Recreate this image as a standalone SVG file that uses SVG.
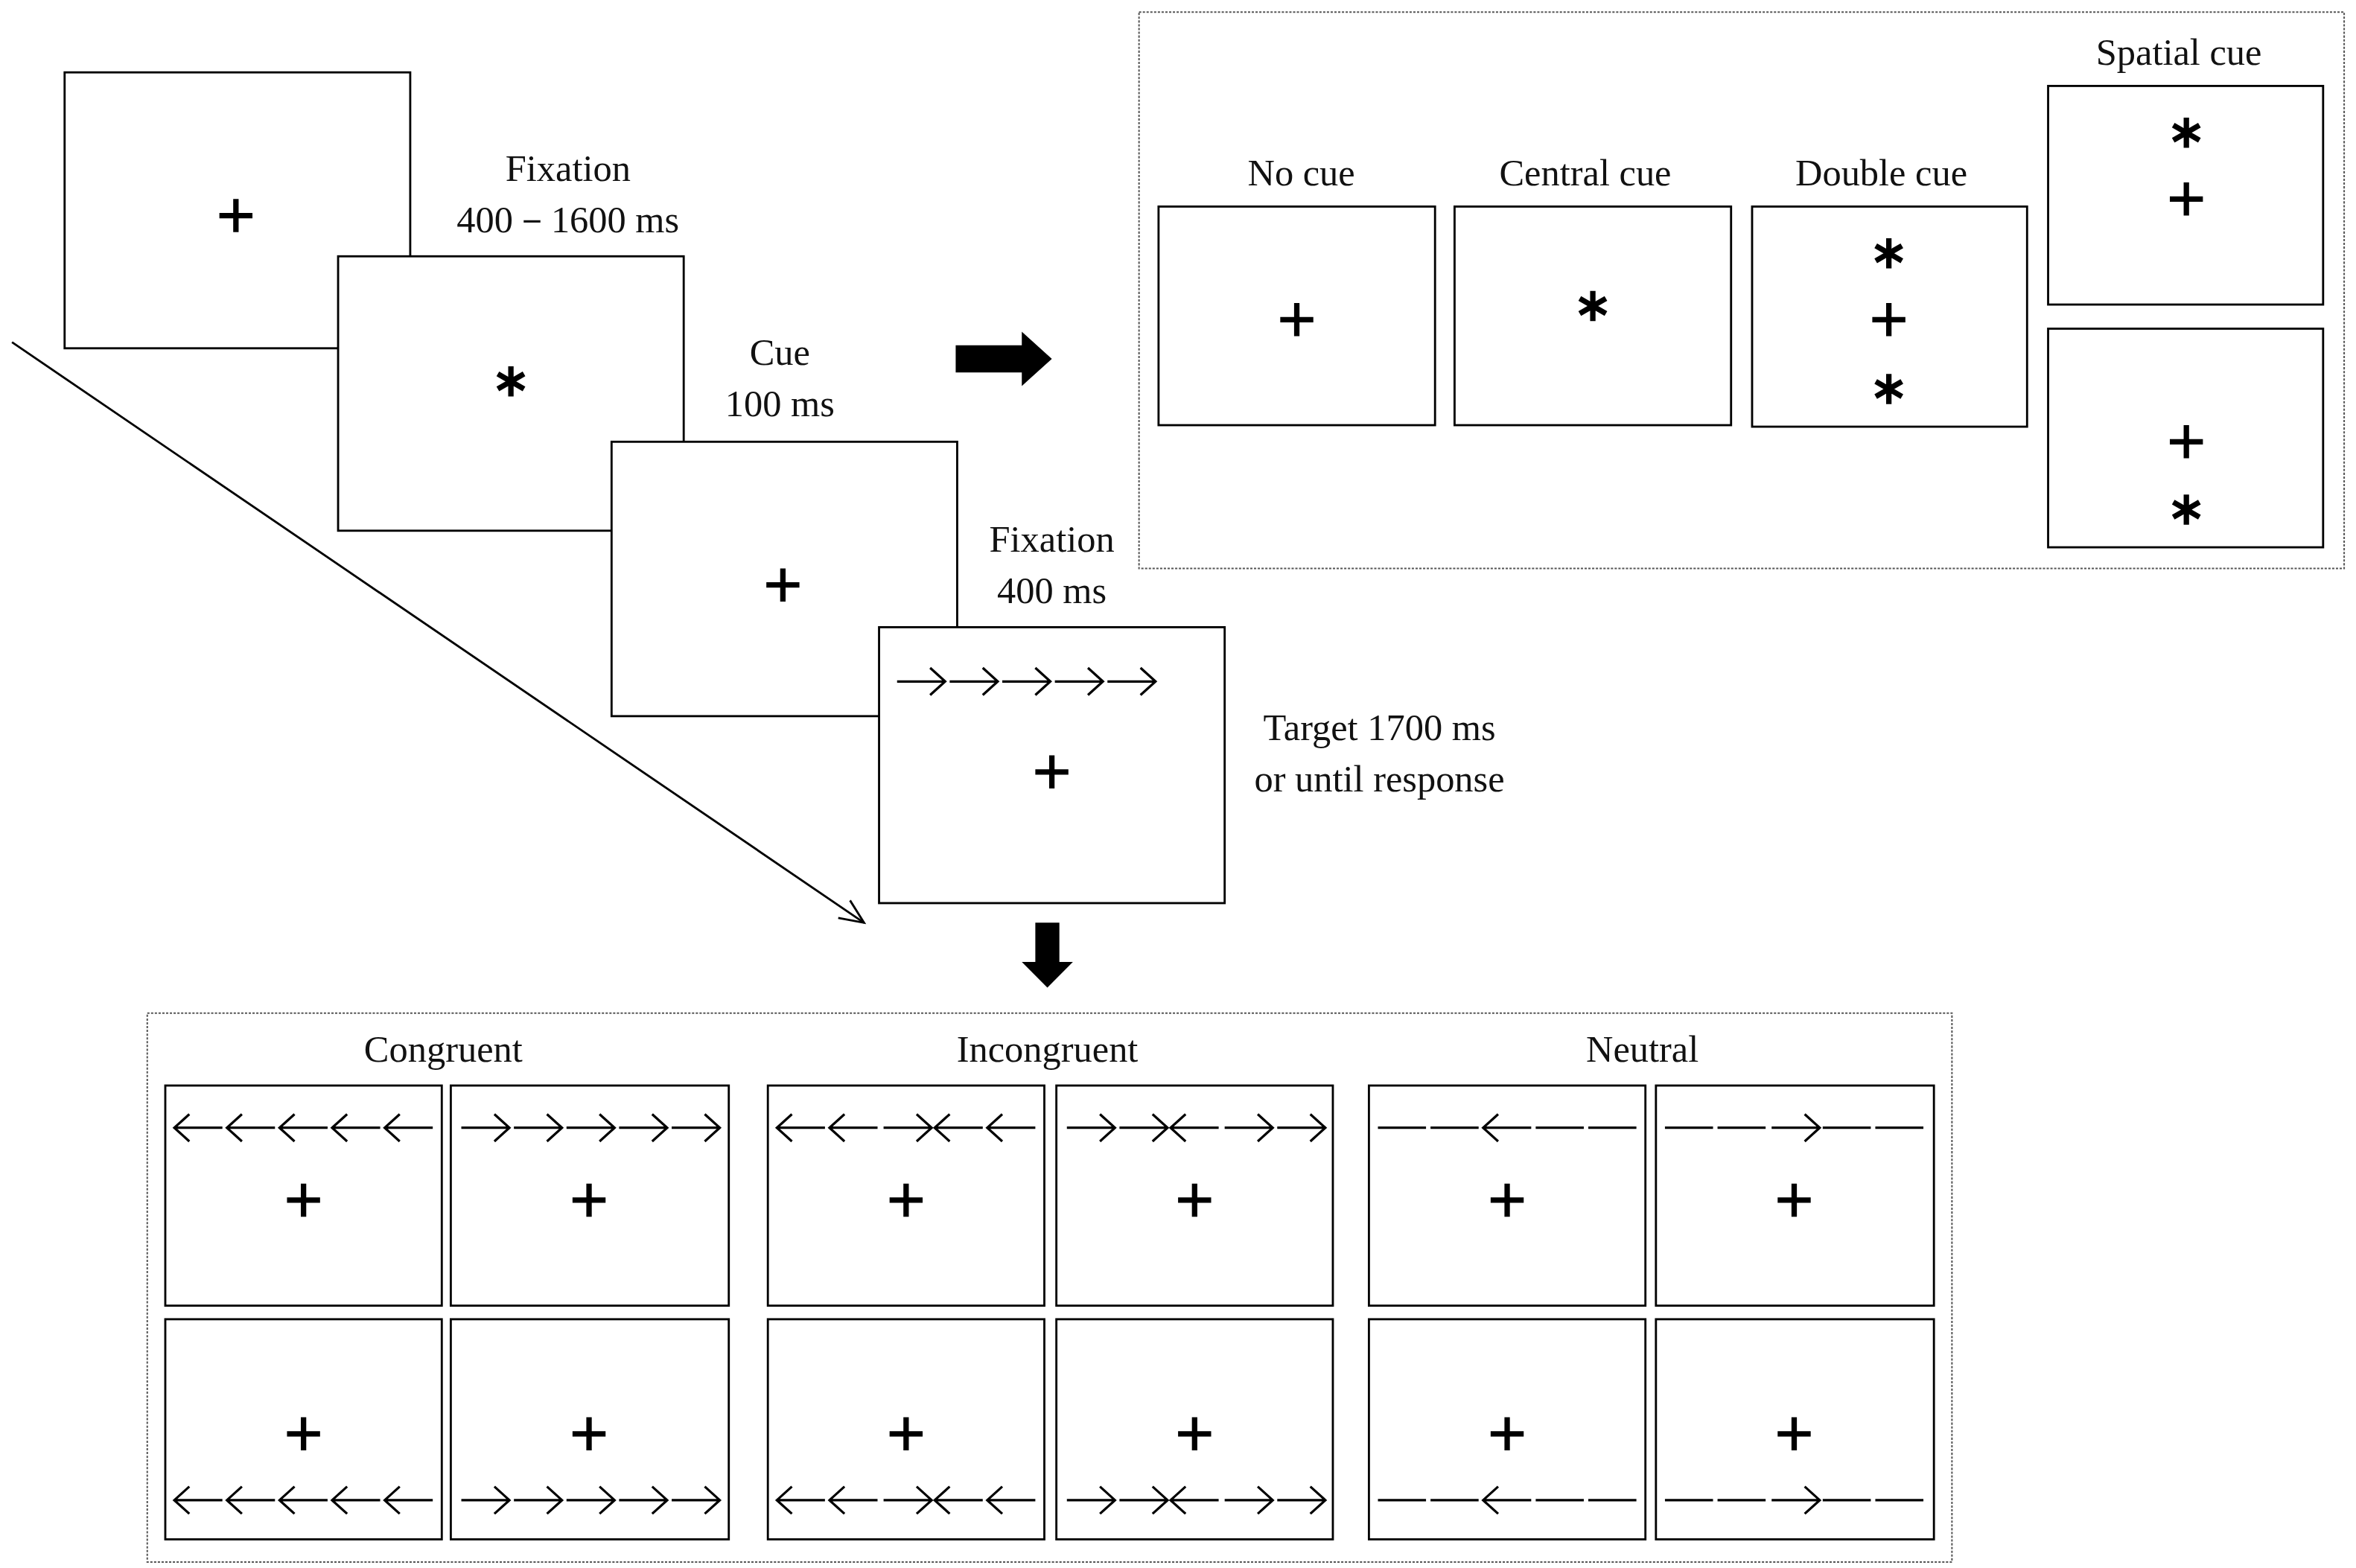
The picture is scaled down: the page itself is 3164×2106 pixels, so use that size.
<svg xmlns="http://www.w3.org/2000/svg" xmlns:xlink="http://www.w3.org/1999/xlink" width="3164" height="2106" viewBox="0 0 3164 2106">
<style>
.box{fill:#fff;stroke:#000;stroke-width:1.4}
.dash{fill:none;stroke:#555;stroke-width:1;stroke-dasharray:1.5 1}
.t{font-family:"Liberation Serif",serif;font-size:25px;fill:#111;text-anchor:middle}
.sym{fill:none;stroke:#000;stroke-width:3.6}
.ar{fill:none;stroke:#000;stroke-width:1.6}
</style>
<defs>
<path id="plus" class="sym" d="M-11,0H11M0,-11V11"/>
<path id="ast" class="sym" d="M0,-10V10M-8.7,-5L8.7,5M-8.7,5L8.7,-5"/>
<path id="R" class="ar" d="M2,0H34M24,-9L34,0L24,9"/>
<path id="L" class="ar" d="M33,0H1M11,-9L1,0L11,9"/>
<path id="D" class="ar" d="M1,0H33"/>
<g id="RRRRR"><use xlink:href="#R"/><use xlink:href="#R" x="35"/><use xlink:href="#R" x="70"/><use xlink:href="#R" x="105"/><use xlink:href="#R" x="140"/></g>
<g id="LLLLL"><use xlink:href="#L"/><use xlink:href="#L" x="35"/><use xlink:href="#L" x="70"/><use xlink:href="#L" x="105"/><use xlink:href="#L" x="140"/></g>
<g id="LLRLL"><use xlink:href="#L"/><use xlink:href="#L" x="35"/><use xlink:href="#R" x="70"/><use xlink:href="#L" x="105"/><use xlink:href="#L" x="140"/></g>
<g id="RRLRR"><use xlink:href="#R"/><use xlink:href="#R" x="35"/><use xlink:href="#L" x="70"/><use xlink:href="#R" x="105"/><use xlink:href="#R" x="140"/></g>
<g id="DDLDD"><use xlink:href="#D"/><use xlink:href="#D" x="35"/><use xlink:href="#L" x="70"/><use xlink:href="#D" x="105"/><use xlink:href="#D" x="140"/></g>
<g id="DDRDD"><use xlink:href="#D"/><use xlink:href="#D" x="35"/><use xlink:href="#R" x="70"/><use xlink:href="#D" x="105"/><use xlink:href="#D" x="140"/></g>
<marker id="open" markerWidth="20" markerHeight="20" refX="18" refY="10" orient="auto" markerUnits="userSpaceOnUse"><path d="M2,3L18,10L2,17" fill="none" stroke="#000" stroke-width="1.4"/></marker>
</defs>
<rect width="3164" height="2106" fill="#fff"/>
<g transform="scale(2.018,2.025)">
<g id="connectors">
<line x1="8" y1="227" x2="575" y2="612" stroke="#000" stroke-width="1.4" marker-end="url(#open)"/>
<path d="M636,229H680V220L700,238L680,256V247H636Z" fill="#000"/>
<path d="M689,612H705V638H714L697,655L680,638H689Z" fill="#000"/>
</g>
<g id="seq1"><rect class="box" x="43" y="48" width="230" height="183"/><use xlink:href="#plus" x="157" y="143"/></g>
<g id="seq2"><rect class="box" x="225" y="170" width="230" height="182"/><use xlink:href="#ast" x="340" y="253"/></g>
<g id="seq3"><rect class="box" x="407" y="293" width="230" height="182"/><use xlink:href="#plus" x="521" y="388"/></g>
<g id="seq4"><rect class="box" x="585" y="416" width="230" height="183"/><use xlink:href="#RRRRR" x="595" y="452" transform="translate(0,0)"/><use xlink:href="#plus" x="700" y="512"/></g>
<g id="labels">
<text class="t" x="378" y="120">Fixation</text>
<text class="t" x="378" y="154">400－1600 ms</text>
<text class="t" x="519" y="242">Cue</text>
<text class="t" x="519" y="276">100 ms</text>
<text class="t" x="700" y="366">Fixation</text>
<text class="t" x="700" y="400">400 ms</text>
<text class="t" x="918" y="491">Target 1700 ms</text>
<text class="t" x="918" y="525">or until response</text>
</g>
<g id="cues">
<rect class="dash" x="758" y="8" width="802" height="369"/>
<text class="t" x="866" y="123">No cue</text>
<text class="t" x="1055" y="123">Central cue</text>
<text class="t" x="1252" y="123">Double cue</text>
<text class="t" x="1450" y="43">Spatial cue</text>
<g id="nocue"><rect class="box" x="771" y="137" width="184" height="145"/><use xlink:href="#plus" x="863" y="212"/></g>
<g id="central"><rect class="box" x="968" y="137" width="184" height="145"/><use xlink:href="#ast" x="1060" y="203"/></g>
<g id="double"><rect class="box" x="1166" y="137" width="183" height="146"/><use xlink:href="#ast" x="1257" y="168"/><use xlink:href="#plus" x="1257" y="212"/><use xlink:href="#ast" x="1257" y="258"/></g>
<g id="spatial1"><rect class="box" x="1363" y="57" width="183" height="145"/><use xlink:href="#ast" x="1455" y="88"/><use xlink:href="#plus" x="1455" y="132"/></g>
<g id="spatial2"><rect class="box" x="1363" y="218" width="183" height="145"/><use xlink:href="#plus" x="1455" y="293"/><use xlink:href="#ast" x="1455" y="338"/></g>
</g>
<g id="targets">
<rect class="dash" x="98" y="672" width="1201" height="364"/>
<text class="t" x="295" y="704">Congruent</text>
<text class="t" x="697" y="704">Incongruent</text>
<text class="t" x="1093" y="704">Neutral</text>
<g id="c1"><rect class="box" x="110" y="720" width="184" height="146"/><use xlink:href="#LLLLL" x="115" y="748"/><use xlink:href="#plus" x="202" y="796"/></g>
<g id="c2"><rect class="box" x="300" y="720" width="185" height="146"/><use xlink:href="#RRRRR" x="305" y="748"/><use xlink:href="#plus" x="392" y="796"/></g>
<g id="c3"><rect class="box" x="110" y="875" width="184" height="146"/><use xlink:href="#LLLLL" x="115" y="995"/><use xlink:href="#plus" x="202" y="951"/></g>
<g id="c4"><rect class="box" x="300" y="875" width="185" height="146"/><use xlink:href="#RRRRR" x="305" y="995"/><use xlink:href="#plus" x="392" y="951"/></g>
<g id="i1"><rect class="box" x="511" y="720" width="184" height="146"/><use xlink:href="#LLRLL" x="516" y="748"/><use xlink:href="#plus" x="603" y="796"/></g>
<g id="i2"><rect class="box" x="703" y="720" width="184" height="146"/><use xlink:href="#RRLRR" x="708" y="748"/><use xlink:href="#plus" x="795" y="796"/></g>
<g id="i3"><rect class="box" x="511" y="875" width="184" height="146"/><use xlink:href="#LLRLL" x="516" y="995"/><use xlink:href="#plus" x="603" y="951"/></g>
<g id="i4"><rect class="box" x="703" y="875" width="184" height="146"/><use xlink:href="#RRLRR" x="708" y="995"/><use xlink:href="#plus" x="795" y="951"/></g>
<g id="n1"><rect class="box" x="911" y="720" width="184" height="146"/><use xlink:href="#DDLDD" x="916" y="748"/><use xlink:href="#plus" x="1003" y="796"/></g>
<g id="n2"><rect class="box" x="1102" y="720" width="185" height="146"/><use xlink:href="#DDRDD" x="1107" y="748"/><use xlink:href="#plus" x="1194" y="796"/></g>
<g id="n3"><rect class="box" x="911" y="875" width="184" height="146"/><use xlink:href="#DDLDD" x="916" y="995"/><use xlink:href="#plus" x="1003" y="951"/></g>
<g id="n4"><rect class="box" x="1102" y="875" width="185" height="146"/><use xlink:href="#DDRDD" x="1107" y="995"/><use xlink:href="#plus" x="1194" y="951"/></g>
</g>
</g>
</svg>
